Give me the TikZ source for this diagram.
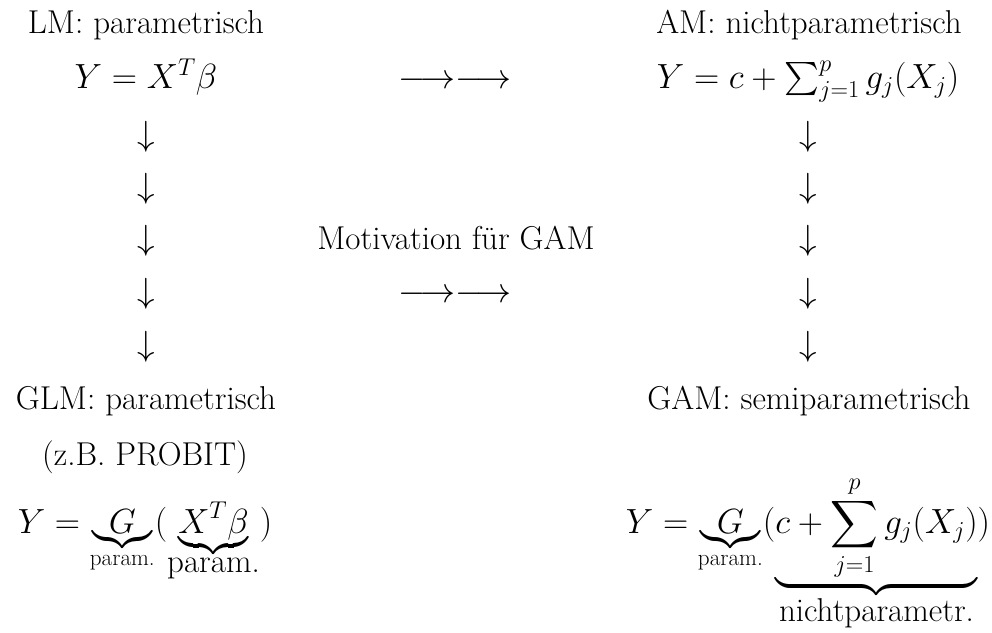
\documentclass[tikz,border=0pt]{standalone}
\usepackage{amsmath,amssymb}
\usepackage{tikz}

\begin{document}
\begin{tikzpicture}[x=0.025cm, y=-0.025cm,
    lbl/.style={anchor=base, inner sep=0pt, font=\fontsize{23.5}{28}\selectfont},
    arr/.style={lbl}]
    \useasboundingbox (0,0) rectangle (992,632);

    % LM (left column)
    \node[lbl] (lm) at (146,33) {LM: parametrisch};
    \node[lbl] (lmf) at (146,88) {$Y = X^T\beta$};

    % LM -> GLM
    \node[arr] (ld1) at (146,145) {$\downarrow$};
    \node[arr] (ld2) at (146,197) {$\downarrow$};
    \node[arr] (ld3) at (146,249) {$\downarrow$};
    \node[arr] (ld4) at (146,302) {$\downarrow$};
    \node[arr] (ld5) at (146,355) {$\downarrow$};

    % GLM
    \node[lbl] (glm) at (146,409) {GLM: parametrisch};
    \node[lbl] (probit) at (145,465) {(z.B. PROBIT)};
    \node[lbl] (glmf) at (145,533) {$Y = \underbrace{\hspace{.5em}G\hspace{.5em}}_{\text{param.}}(\underbrace{X^T\beta}_{\mbox{param.}})$};

    % middle
    \node[arr] (mr1) at (455,88) {$\longrightarrow\longrightarrow$};
    \node[lbl] (mot) at (456,249) {Motivation f\"ur GAM};
    \node[arr] (mr2) at (455,302) {$\longrightarrow\longrightarrow$};

    % AM (right column)
    \node[lbl] (am) at (809,33) {AM: nichtparametrisch};
    \node[lbl] (amf) at (808,88) {$Y = c + \sum_{j=1}^p g_j(X_j)$};

    % AM -> GAM
    \node[arr] (rd1) at (808,145) {$\downarrow$};
    \node[arr] (rd2) at (808,197) {$\downarrow$};
    \node[arr] (rd3) at (808,249) {$\downarrow$};
    \node[arr] (rd4) at (808,302) {$\downarrow$};
    \node[arr] (rd5) at (808,355) {$\downarrow$};

    % GAM
    \node[lbl] (gam) at (809,409) {GAM: semiparametrisch};
    \node[lbl] (gamf) at (808,533) {$Y = \underbrace{\hspace{.25em}G\hspace{.25em}}_{\text{param.}}(\underbrace{c + \displaystyle\sum_{j=1}^p g_j(X_j)}_{\mbox{nichtparametr.}})$};
\end{tikzpicture}
\end{document}
